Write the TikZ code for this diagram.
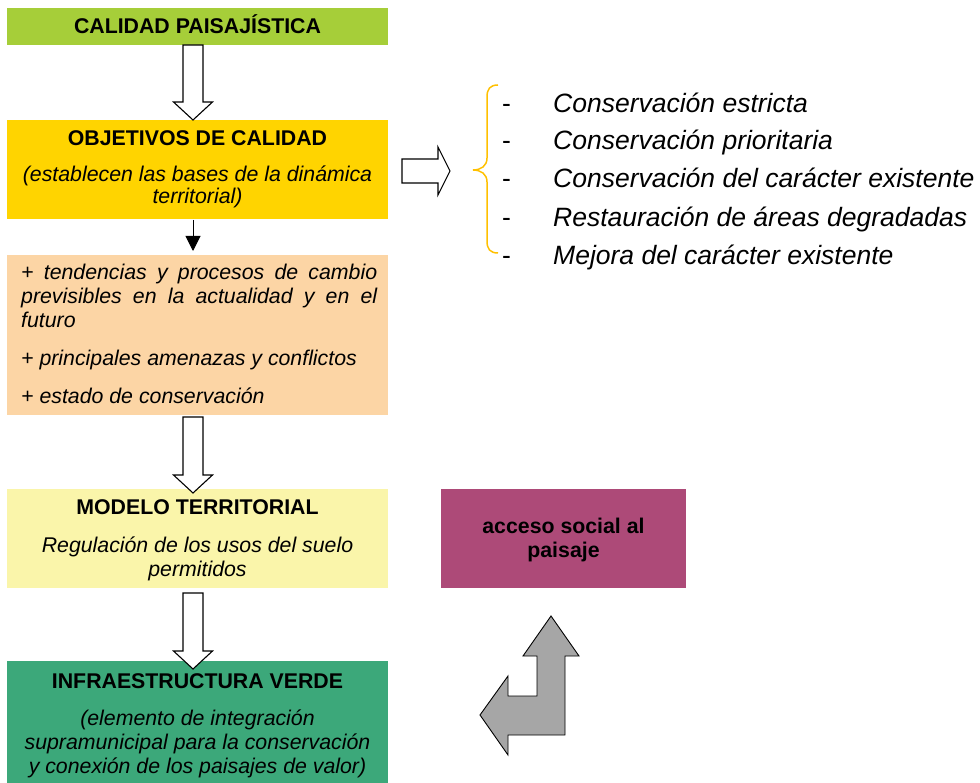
\documentclass[tikz,border=0pt]{standalone}
\usepackage{fontspec}
\setmainfont{Liberation Sans}
\usetikzlibrary{calc,arrows.meta}
\definecolor{calgreen}{RGB}{166,206,57}
\definecolor{objyellow}{RGB}{255,212,0}
\definecolor{peachbox}{RGB}{252,213,165}
\definecolor{paleyellow}{RGB}{250,245,170}
\definecolor{infgreen}{RGB}{60,168,122}
\definecolor{accpink}{RGB}{173,74,120}
\definecolor{bracegold}{RGB}{255,192,0}
\definecolor{arrowgrey}{RGB}{166,166,166}
\newcommand{\hollowdown}[2]{%
  \draw[hollow] ($(#1)+(-10,0)$) -- ($(#2)+(-10,-18)$) -- ($(#2)+(-19.5,-18)$) -- (#2)
    -- ($(#2)+(19.5,-18)$) -- ($(#2)+(10,-18)$) -- ($(#1)+(10,0)$) -- cycle;}
\begin{document}
\begin{tikzpicture}[x=1pt,y=-1pt,
  box/.style={inner sep=0pt, outer sep=0pt, draw=none, anchor=north west},
  ttl/.style={font=\fontsize{21.3}{24}\selectfont\bfseries, anchor=base, inner sep=0pt},
  itl/.style={font=\fontsize{21.3}{24}\selectfont\itshape, anchor=base, inner sep=0pt},
  lst/.style={font=\fontsize{26.5}{30}\selectfont\itshape, anchor=base west, inner sep=0pt},
  lstdash/.style={font=\fontsize{26.5}{30}\selectfont, anchor=base, inner sep=0pt},
  hollow/.style={draw=black, fill=white, line width=1.1pt, line join=miter},
  bentarrow/.style={draw=black, fill=arrowgrey, line width=0.9pt, line join=miter},
  bracestyle/.style={draw=bracegold, line width=1.5pt}]
\useasboundingbox (0,0) rectangle (980,783);

% boxes
\node[box, fill=calgreen, minimum width=381pt, minimum height=37pt] (cal) at (7,8) {};
\node[box, fill=objyellow, minimum width=381pt, minimum height=99pt] (obj) at (7,120) {};
\node[box, fill=peachbox, minimum width=381pt, minimum height=160pt] (peach) at (7,255) {};
\node[box, fill=paleyellow, minimum width=381pt, minimum height=99pt] (model) at (7,489) {};
\node[box, fill=infgreen, minimum width=381pt, minimum height=124pt] (infra) at (7,661) {};
\node[box, fill=accpink, minimum width=245pt, minimum height=99pt] (acc) at (441,489) {};

% texts
\node[ttl] (calt) at (197.5,34) {CALIDAD PAISAJÍSTICA};
\node[ttl] (objt) at (197.5,146) {OBJETIVOS DE CALIDAD};
\node[itl] (obj1) at (197.5,182) {(establecen las bases de la dinámica};
\node[itl] (obj2) at (197.5,204) {territorial)};

\node[itl, anchor=base west] (p1) at (21,280) {\makebox[356pt][s]{+ tendencias y procesos de cambio}};
\node[itl, anchor=base west] (p2) at (21,304) {\makebox[356pt][s]{previsibles en la actualidad y en el}};
\node[itl, anchor=base west] (p3) at (21,328) {futuro};
\node[itl, anchor=base west] (p4) at (21,366) {+ principales amenazas y conflictos};
\node[itl, anchor=base west] (p5) at (21,403) {+ estado de conservación};

\node[ttl] (modelt) at (197.5,514) {MODELO TERRITORIAL};
\node[itl] (model1) at (197.5,552) {Regulación de los usos del suelo};
\node[itl] (model2) at (197.5,576) {permitidos};

\node[ttl] (infrat) at (197.5,688) {INFRAESTRUCTURA VERDE};
\node[itl] (infra1) at (197.5,725) {(elemento de integración};
\node[itl] (infra2) at (197.5,749) {supramunicipal para la conservación};
\node[itl] (infra3) at (197.5,773) {y conexión de los paisajes de valor)};

\node[ttl] (acc1) at (563.5,533) {acceso social al};
\node[ttl] (acc2) at (563.5,557) {paisaje};

% list
\foreach \n/\yy/\t in {1/113/Conservación estricta,
                      2/150/Conservación prioritaria,
                      3/188/Conservación del carácter existente,
                      4/227/Restauración de áreas degradadas,
                      5/265/Mejora del carácter existente}{
  \node[lstdash] (d\n) at (506.5,\yy) {-};
  \node[lst] (l\n) at (553,\yy) {\t};
}

% brace
\draw[bracestyle] (498,85) .. controls (490,85) and (487,89) .. (487,97) -- (487,158)
  .. controls (487,166) and (481,170) .. (473,170)
  .. controls (481,170) and (487,174) .. (487,182) -- (487,241)
  .. controls (487,249) and (490,253) .. (498,253);

% hollow down arrows
\coordinate (a1s) at ($(cal.south)+(-4.5,0)$);
\coordinate (a1e) at ($(obj.north)+(-4.5,0)$);
\hollowdown{a1s}{a1e}
\coordinate (a2s) at ($(peach.south)+(-4.5,2)$);
\coordinate (a2e) at ($(model.north)+(-4.5,4)$);
\hollowdown{a2s}{a2e}
\coordinate (a3s) at ($(model.south)+(-4.5,5)$);
\coordinate (a3e) at ($(infra.north)+(-4.5,8)$);
\hollowdown{a3s}{a3e}

% right hollow arrow
\draw[hollow] (402,159) -- (438,159) -- (438,147) -- (450,171) -- (438,195) -- (438,183) -- (402,183) -- cycle;

% small black arrow
\draw[line width=1pt, -{Triangle[width=15pt,length=15pt]}] ($(obj.south)+(-4.5,1)$) -- ($(peach.north)+(-4.5,-4)$);

% bent grey arrow
\draw[bentarrow] (551,616) -- (579,656) -- (565,656) -- (565,735) -- (508,735) -- (508,755)
  -- (480,715) -- (508,676) -- (508,696) -- (537,696) -- (537,656) -- (523,656) -- cycle;
\end{tikzpicture}
\end{document}
